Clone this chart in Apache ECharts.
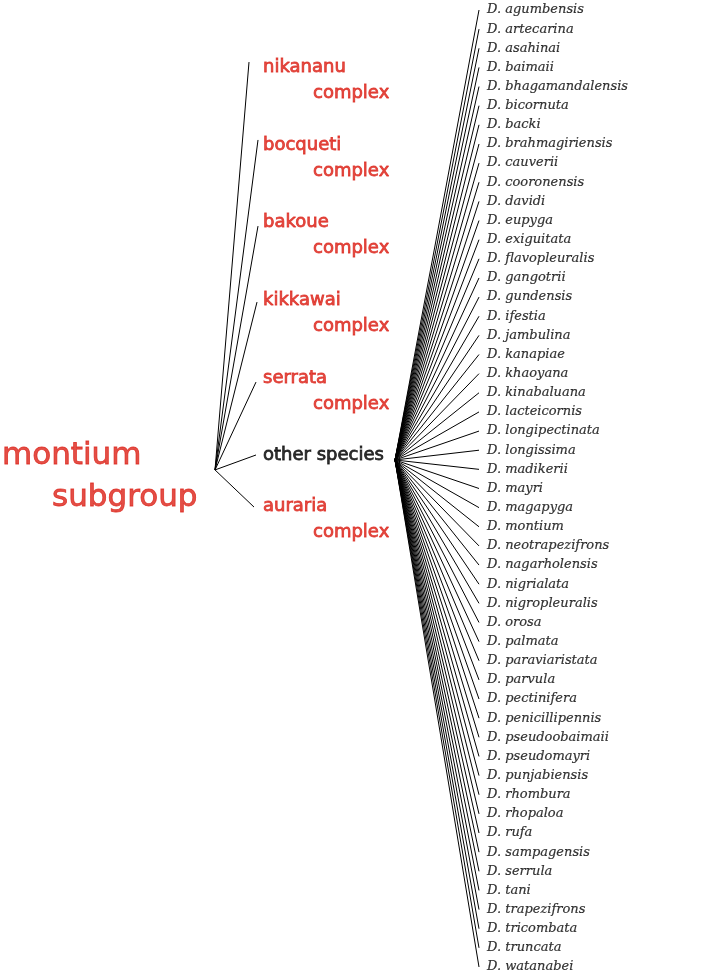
<!DOCTYPE html>
<html>
<head>
<meta charset="utf-8">
<script src="https://cdn.jsdelivr.net/npm/echarts@6/dist/echarts.min.js"></script>
<style>
html,body{margin:0;padding:0;background:#fff;}
#chart{width:723px;height:980px;}
</style>
</head>
<body>
<div id="chart"></div>
<script>
// ---- data ----
const rootName = 'montium';
const rootSub = 'subgroup';
const rootPos = [215, 24.03];          // x, row
const rootLabelPos = [2, 23.30];

const groupNames  = ['nikananu', 'bocqueti', 'bakoue', 'kikkawai', 'serrata', 'other species', 'auraria'];
const groupSuffix = ['complex', 'complex', 'complex', 'complex', 'complex', '', 'complex'];
const groupTipX   = [249, 258, 258, 257, 256, 256, 254];
const groupTipRow = [2.72, 6.79, 11.29, 15.26, 19.44, 23.25, 25.97];
const groupLabelX = [263, 263, 263, 263, 263, 263, 263];
const groupLabelRow = [2.98, 7.05, 11.08, 15.15, 19.23, 23.25, 25.91];
const groupIsRed  = [true, true, true, true, true, false, true];

const hubPos = [395, 23.51];
const leafX = 479;
const species = ['agumbensis','artecarina','asahinai','baimaii','bhagamandalensis','bicornuta','backi',
  'brahmagiriensis','cauverii','cooronensis','davidi','eupyga','exiguitata','flavopleuralis','gangotrii',
  'gundensis','ifestia','jambulina','kanapiae','khaoyana','kinabaluana','lacteicornis','longipectinata',
  'longissima','madikerii','mayri','magapyga','montium','neotrapezifrons','nagarholensis','nigrialata',
  'nigropleuralis','orosa','palmata','paraviaristata','parvula','pectinifera','penicillipennis',
  'pseudoobaimaii','pseudomayri','punjabiensis','rhombura','rhopaloa','rufa','sampagensis','serrula',
  'tani','trapezifrons','tricombata','truncata','watanabei'];

// ---- build ----
const RED = '#dc2218';
const nodes = [];
const links = [];
nodes.push({id: 'root', name: 'root', value: rootPos});
groupNames.forEach((g, i) => {
  nodes.push({id: 'g' + i, name: g, value: [groupTipX[i], groupTipRow[i]]});
  links.push({source: 'root', target: 'g' + i});
});
nodes.push({id: 'hub', name: 'hub', value: hubPos});
species.forEach((s, i) => {
  nodes.push({id: 's' + i, name: 'D. ' + s, value: [leafX, i]});
  links.push({source: 'hub', target: 's' + i});
});

const speciesLabels = species.map((s, i) => ({
  value: [leafX, i],
  label: {
    show: true, position: [8, 0], align: 'left', verticalAlign: 'middle',
    formatter: 'D. ' + s,
    fontFamily: 'DejaVu Serif', fontStyle: 'italic', fontSize: 13, color: '#000',
    textBorderColor: '#000', textBorderWidth: 0.2
  }
}));

const txtBorder = (c) => ({textBorderColor: c, textBorderWidth: 0.8});
const labelData = groupNames.map((g, i) => {
  const two = groupSuffix[i] !== '';
  const col = groupIsRed[i] ? RED : '#000';
  return {
    value: [groupLabelX[i], groupLabelRow[i]],
    label: {
      show: true, position: [0, 0], align: 'left', verticalAlign: 'middle',
      offset: [0, two ? 13 : 0],
      formatter: two ? '{a|' + g + '}\n{b|' + groupSuffix[i] + '}' : '{a|' + g + '}',
      rich: {
        a: Object.assign({fontFamily: 'DejaVu Sans', fontSize: 18, color: col, lineHeight: 26}, txtBorder(col)),
        b: Object.assign({fontFamily: 'DejaVu Sans', fontSize: 18, color: col, lineHeight: 26, padding: [0, 0, 0, 50]}, txtBorder(col))
      }
    }
  };
});
labelData.push({
  value: rootLabelPos,
  label: {
    show: true, position: [0, 0], align: 'left', verticalAlign: 'middle', offset: [0, 21],
    formatter: '{a|' + rootName + '}\n{b|' + rootSub + '}',
    rich: {
      a: Object.assign({fontFamily: 'DejaVu Sans', fontSize: 31, color: RED, lineHeight: 42}, txtBorder(RED)),
      b: Object.assign({fontFamily: 'DejaVu Sans', fontSize: 31, color: RED, lineHeight: 42, padding: [0, 0, 0, 50]}, txtBorder(RED))
    }
  }
});

const chart = echarts.init(document.getElementById('chart'), null, {renderer: 'canvas'});
chart.setOption({
  animation: false,
  backgroundColor: '#fff',
  grid: {left: 0, right: 0, top: 0, bottom: 0},
  xAxis: {type: 'value', min: 0, max: 723, show: false},
  yAxis: {type: 'value', min: -0.5225, max: 50.68, inverse: true, show: false},
  series: [
    {
      type: 'graph', coordinateSystem: 'cartesian2d', layout: 'none',
      symbol: 'circle', symbolSize: 1, itemStyle: {color: 'rgba(0,0,0,0)'},
      label: {show: false},
      lineStyle: {color: '#000', width: 1, opacity: 1, curveness: 0},
      emphasis: {disabled: true},
      data: nodes, links: links, z: 2
    },
    {
      type: 'scatter', symbolSize: 0, silent: true, z: 3,
      data: labelData.concat(speciesLabels)
    }
  ]
});
</script>
</body>
</html>
